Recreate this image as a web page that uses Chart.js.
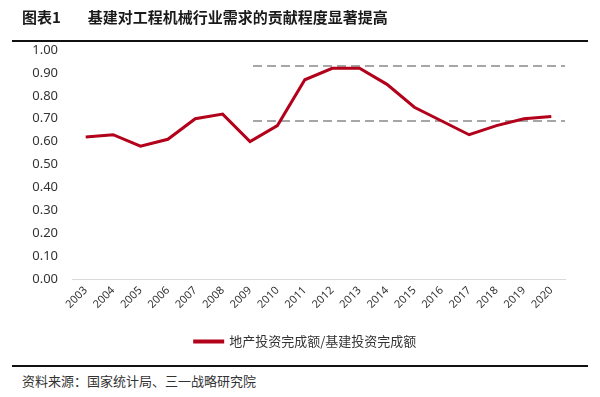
<!DOCTYPE html>
<html>
<head>
<meta charset="utf-8">
<script src="https://cdn.jsdelivr.net/npm/chart.js@4"></script>
<style>
    html, body { margin: 0; padding: 0; background: #fff; }
    #wrap { position: relative; width: 600px; height: 397px; overflow: hidden; }
    #titulo { position: absolute; left: 22px; top: 6px; font: bold 15px "Noto Sans CJK SC"; color: #1a1a1a; white-space: nowrap; }
    #titulo span { margin-left: 27px; }
    #linhaTopo { position: absolute; left: 12px; top: 40px; width: 576px; height: 2px; background: #111; }
    #linhaBase { position: absolute; left: 12px; top: 365px; width: 576px; height: 2px; background: #111; }
    #fonte { position: absolute; left: 22px; top: 371px; font: 13px "Noto Sans CJK SC"; color: #333; white-space: nowrap; }
    #area { position: absolute; left: 0; top: 0; width: 600px; height: 358px; }
</style>
</head>
<body>
<div id="wrap">
    <div id="area"><canvas id="grafico"></canvas></div>
    <div id="titulo">图表1<span>基建对工程机械行业需求的贡献程度显著提高</span></div>
    <div id="linhaTopo"></div>
    <div id="linhaBase"></div>
    <div id="fonte">资料来源：国家统计局、三一战略研究院</div>
</div>
<script>
var anos = ['2003', '2004', '2005', '2006', '2007', '2008', '2009', '2010', '2011', '2012',
    '2013', '2014', '2015', '2016', '2017', '2018', '2019', '2020'];
var razao = [0.62, 0.63, 0.58, 0.61, 0.70, 0.72, 0.60, 0.67, 0.87, 0.92,
    0.92, 0.85, 0.75, 0.69, 0.63, 0.67, 0.70, 0.71];
var nomeSerie = '地产投资完成额/基建投资完成额';
var linhasRef = [0.93, 0.69];
var inicioRef = '2009';

// linhas tracejadas de referencia (desenhadas pelas escalas do grafico)
var pluginRef = {
    id: 'linhasRef',
    afterLayout: function (chart) {
        // centraliza a legenda um pouco mais a direita, como no original
        chart.legend.left = 46;
    },
    beforeDatasetsDraw: function (chart) {
        var ctx = chart.ctx;
        var x = chart.scales.x;
        var y = chart.scales.y;
        var x0 = x.getPixelForValue(anos.indexOf(inicioRef)) + 3;
        var x1 = chart.chartArea.right;
        ctx.save();
        ctx.strokeStyle = '#a6a6a6';
        ctx.lineWidth = 2;
        ctx.setLineDash([9, 5]);
        linhasRef.forEach(function (v) {
            var py = Math.round(y.getPixelForValue(v));
            ctx.beginPath();
            ctx.moveTo(x0, py);
            ctx.lineTo(x1, py);
            ctx.stroke();
        });
        ctx.restore();
    }
};

new Chart(document.getElementById('grafico').getContext('2d'), {
    type: 'line',
    data: {
        labels: anos,
        datasets: [{
            label: nomeSerie,
            data: razao,
            borderColor: '#b3001b',
            backgroundColor: '#b3001b',
            borderWidth: 3,
            pointRadius: 0,
            tension: 0
        }]
    },
    options: {
        responsive: true,
        maintainAspectRatio: false,
        animation: false,
        layout: { padding: { top: 50, right: 35, left: 0, bottom: 0 } },
        scales: {
            x: {
                offset: true,
                grid: { display: false, drawTicks: false },
                border: { color: '#d9d9d9', width: 1 },
                ticks: {
                    color: '#333',
                    font: { family: 'Noto Sans', size: 11 },
                    maxRotation: 45,
                    minRotation: 45,
                    padding: 5,
                    autoSkip: false
                },
                afterFit: function (scale) { scale.height = 50; }
            },
            y: {
                min: 0,
                max: 1,
                grid: { display: false, drawTicks: false },
                border: { display: false },
                ticks: {
                    stepSize: 0.1,
                    color: '#333',
                    padding: 14,
                    font: { family: 'Noto Sans', size: 13 },
                    callback: function (v) { return v.toFixed(2); }
                },
                afterFit: function (scale) { scale.width = 72; }
            }
        },
        plugins: {
            legend: {
                position: 'bottom',
                labels: {
                    color: '#333',
                    boxWidth: 28,
                    boxHeight: 1,
                    padding: 6,
                    font: { family: 'Noto Sans CJK SC', size: 13 }
                }
            },
            tooltip: { enabled: false }
        }
    },
    plugins: [pluginRef]
});
</script>
</body>
</html>
